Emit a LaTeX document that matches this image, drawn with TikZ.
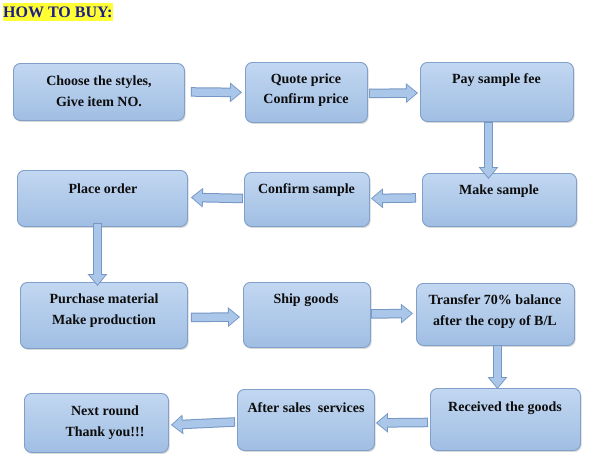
\documentclass[tikz,border=0pt]{standalone}
\usepackage{fontspec}
\setmainfont{Liberation Serif}
\usetikzlibrary{arrows.meta,shadows}
\definecolor{boxtop}{HTML}{C2D7F1}
\definecolor{boxbot}{HTML}{A0BEE3}
\definecolor{boxline}{HTML}{809FC9}
\definecolor{arrfill}{HTML}{AAC6E9}
\definecolor{arrline}{HTML}{7597C4}
\definecolor{titleblue}{HTML}{1C1C8A}
\definecolor{titlebg}{HTML}{FFFF33}
\begin{document}
\begin{tikzpicture}[x=1pt,y=-1pt,
  box/.style={draw=boxline, line width=0.9pt, rounded corners=7pt,
    top color=boxtop, bottom color=boxbot, anchor=north west, inner sep=0pt,
    drop shadow={shadow xshift=1.2pt, shadow yshift=-1.5pt, opacity=0.25, fill=black!60}},
  txt/.style={font=\bfseries\fontsize{14}{20.5}\selectfont, text=black!95, align=center, inner sep=0pt},
  barrow/.style={line width=9.5pt, draw=arrline,
    -{Triangle[length=12pt,width=19pt]},
    postaction={draw=arrfill, line width=7.5pt,
      -{Triangle[length=9.6pt,width=15.2pt]}, shorten >=1.4pt, shorten <=1pt}}]
\useasboundingbox (0,0) rectangle (600,467);
\fill[white] (0,0) rectangle (600,467);
% title
\node[fill=titlebg, inner sep=0pt, anchor=north west,
  minimum width=109, minimum height=18,
  font=\bfseries\fontsize{16}{18}\selectfont, text=titleblue] (title) at (3,3) {HOW TO BUY:};
% row 1
\node[box, minimum width=171, minimum height=57] (b1) at (13,63) {};
\node[box, minimum width=122, minimum height=60] (b2) at (245,62) {};
\node[box, minimum width=153, minimum height=59] (b3) at (420,62) {};
% row 2
\node[box, minimum width=170, minimum height=56] (b4) at (17,170) {};
\node[box, minimum width=125, minimum height=54] (b5) at (244,172) {};
\node[box, minimum width=154, minimum height=53] (b6) at (422,173) {};
% row 3
\node[box, minimum width=167, minimum height=66] (b7) at (20,282) {};
\node[box, minimum width=127, minimum height=65] (b8) at (243,282) {};
\node[box, minimum width=158, minimum height=62] (b9) at (416,283) {};
% row 4
\node[box, minimum width=150, minimum height=62] (b10) at (430,388) {};
\node[box, minimum width=137, minimum height=61] (b11) at (237,389) {};
\node[box, minimum width=144, minimum height=59] (b12) at (24,393) {};
% texts
\node[txt] (t1) at (99,91) {Choose the styles,\\Give item NO.};
\node[txt] (t2) at (306,90) {Quote price\\Confirm price};
\node[txt] (t3) at (496.5,80) {Pay sample fee};
\node[txt] (t4) at (103,189) {Place order};
\node[txt] (t5) at (306.5,190) {Confirm sample};
\node[txt] (t6) at (499,191) {Make sample};
\node[txt] (t7) at (104,310.5) {Purchase material\\Make production};
\node[txt] (t8) at (306,300) {Ship goods};
\node[txt] (t9) at (495,311.5) {Transfer 70\% balance\\after the copy of B/L};
\node[txt] (t10) at (505,408) {Received the goods};
\node[txt] (t11) at (306,408) {After sales\ \ services};
\node[txt] (t12) at (105,422.5) {Next round\\Thank you!!!};
% arrows
\draw[barrow] ([xshift=6]b1.east) -- ([xshift=-3]b2.west);
\draw[barrow] ([xshift=1,yshift=-1]b2.east) -- ([xshift=-2,yshift=-1]b3.west);
\draw[barrow] ([xshift=-8.5]b3.south) -- ([xshift=-11,yshift=-6]b6.north);
\draw[barrow] ([xshift=-6,yshift=2]b6.west) -- ([xshift=1,yshift=1]b5.east);
\draw[barrow] ([xshift=-1,yshift=1]b5.west) -- ([xshift=3,yshift=1]b4.east);
\draw[barrow] ([xshift=-5,yshift=4]b4.south) -- ([xshift=-6.5,yshift=-4]b7.north);
\draw[barrow] ([xshift=3,yshift=-2]b7.east) -- ([xshift=-3,yshift=-2]b8.west);
\draw[barrow] ([xshift=0,yshift=1]b8.east) -- ([xshift=-3,yshift=1]b9.west);
\draw[barrow] ([xshift=2,yshift=1]b9.south) -- ([xshift=-8,yshift=-1]b10.north);
\draw[barrow] ([xshift=-2,yshift=-3]b10.west) -- ([xshift=1,yshift=-3]b11.east);
\draw[barrow] ([xshift=-2,yshift=-2]b11.west) -- ([xshift=2,yshift=-2]b12.east);
\end{tikzpicture}
\end{document}
